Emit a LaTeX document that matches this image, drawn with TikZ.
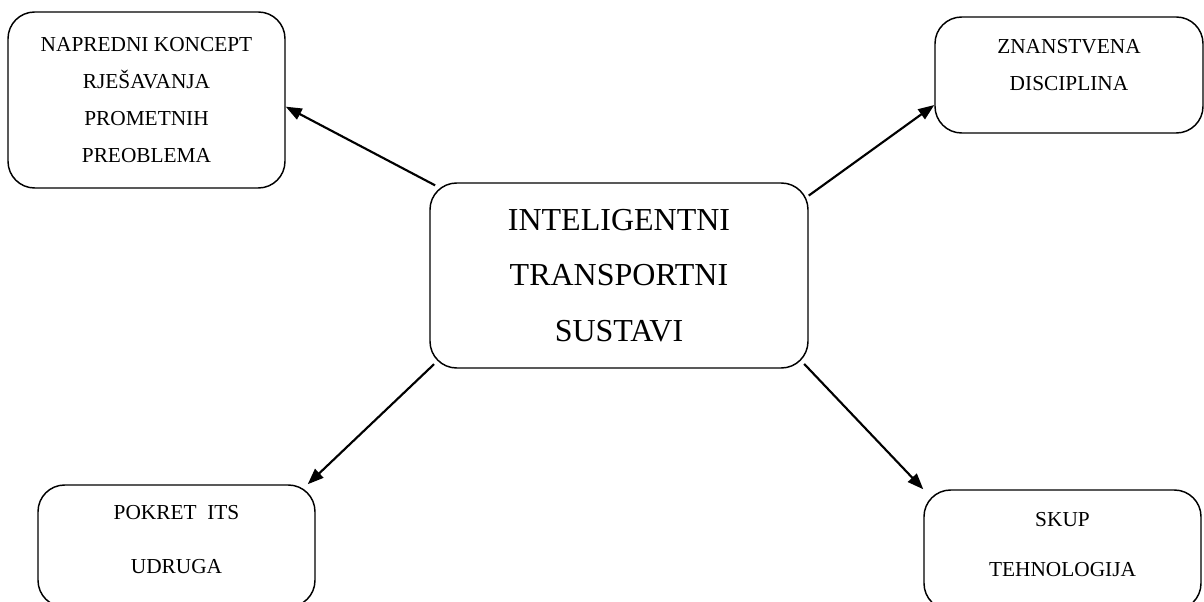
\documentclass[tikz,border=0pt]{standalone}
\usepackage{fontspec}
\setmainfont{Liberation Serif}
\usetikzlibrary{arrows.meta,positioning}

\begin{document}
\begin{tikzpicture}[x=0.75pt, y=-0.75pt,
    box/.style={draw, line width=1.1pt, rounded corners=20pt, align=center, inner sep=0pt},
    smalltxt/.style={font=\fontsize{16}{27.75}\selectfont, align=center},
    bigtxt/.style={font=\fontsize{24}{41.6}\selectfont, align=center},
    link/.style={-{Triangle[length=12pt, width=9pt]}, line width=1.6pt}]
    \clip (0,0) rectangle (1204,602);

    % centre
    \node[box, bigtxt, minimum width=283.5pt, minimum height=138.75pt] (its) at (619,275.5) {INTELIGENTNI\\TRANSPORTNI\\SUSTAVI};

    % corners
    \node[box, smalltxt, minimum width=207.75pt, minimum height=132pt] (npk) at (146.5,100) {NAPREDNI KONCEPT\\RJEŠAVANJA\\PROMETNIH\\PREOBLEMA};
    \node[box, minimum width=201pt, minimum height=87pt,
          label={[smalltxt, yshift=7.5pt]center:{ZNANSTVENA\\DISCIPLINA}}] (zd) at (1069,75) {};
    \node[box, minimum width=207.75pt, minimum height=91.5pt,
          label={[smalltxt, yshift=4.5pt]center:{POKRET\ \ ITS\\[12.75pt]UDRUGA}}] (pis) at (176.5,546) {};
    \node[box, minimum width=207.75pt, minimum height=90pt,
          label={[smalltxt, yshift=3.75pt]center:{SKUP\\[9.75pt]TEHNOLOGIJA}}] (tech) at (1062.5,550) {};

    \draw[link, shorten <=-5pt] (its.north west) -- ([yshift=-5pt]npk.east);
    \draw[link] ([yshift=-10pt]its.north east) -- ([yshift=-22.5pt]zd.west);
    \draw[link, shorten <=-5pt] (its.south west) -- ([xshift=-6pt]pis.north east);
    \draw[link, shorten <=-5pt] (its.south east) -- (tech.north west);
\end{tikzpicture}
\end{document}
